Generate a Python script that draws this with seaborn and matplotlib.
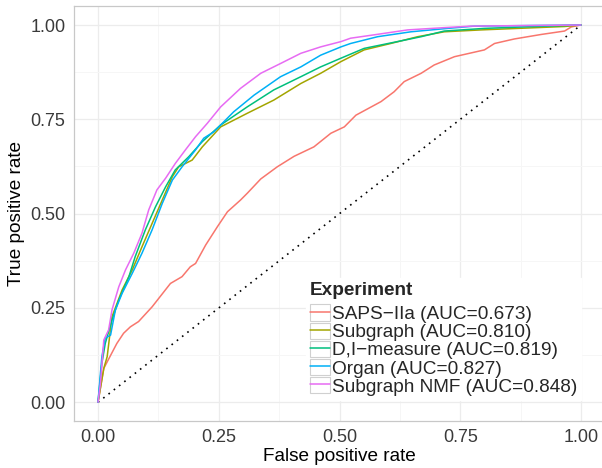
import numpy as np
import pandas as pd
import matplotlib
matplotlib.use("Agg")
import matplotlib.pyplot as plt
from matplotlib.lines import Line2D
from matplotlib.patches import Patch
import seaborn as sns

# ROC points
saps_fpr = [0, 0.012, 0.039, 0.053, 0.067, 0.084, 0.112, 0.150, 0.174, 0.191, 0.202, 0.223, 0.247,
            0.268, 0.295, 0.309, 0.337, 0.371, 0.406, 0.447, 0.482, 0.510, 0.534, 0.586, 0.613,
            0.634, 0.669, 0.696, 0.738, 0.800, 0.821, 0.862, 0.918, 0.966, 0.980, 1.0]
saps_tpr = [0, 0.090, 0.156, 0.183, 0.200, 0.214, 0.253, 0.315, 0.333, 0.359, 0.368, 0.417, 0.465,
            0.505, 0.536, 0.554, 0.592, 0.624, 0.652, 0.677, 0.713, 0.730, 0.761, 0.797, 0.823,
            0.850, 0.872, 0.894, 0.916, 0.934, 0.951, 0.963, 0.975, 0.984, 0.995, 1.0]

sub_fpr = [0, 0.012, 0.019, 0.029, 0.050, 0.071, 0.091, 0.112, 0.133, 0.154, 0.167, 0.195, 0.216,
           0.254, 0.309, 0.364, 0.420, 0.461, 0.503, 0.551, 0.606, 0.662, 0.717, 0.793, 0.869,
           0.966, 1.0]
sub_tpr = [0, 0.090, 0.121, 0.227, 0.298, 0.351, 0.412, 0.474, 0.536, 0.598, 0.624, 0.642, 0.677,
           0.730, 0.766, 0.801, 0.845, 0.872, 0.903, 0.934, 0.951, 0.969, 0.982, 0.987, 0.991,
           0.996, 1.0]

di_fpr = [0, 0.008, 0.015, 0.029, 0.043, 0.064, 0.077, 0.098, 0.119, 0.140, 0.160, 0.188, 0.216,
          0.254, 0.309, 0.364, 0.420, 0.461, 0.503, 0.551, 0.620, 0.669, 0.717, 0.800, 0.883, 1.0]
di_tpr = [0, 0.103, 0.156, 0.218, 0.271, 0.333, 0.386, 0.457, 0.518, 0.571, 0.616, 0.651, 0.691,
          0.735, 0.783, 0.828, 0.863, 0.889, 0.912, 0.938, 0.956, 0.969, 0.984, 0.991, 0.995, 1.0]

organ_fpr = [0, 0.008, 0.015, 0.026, 0.036, 0.050, 0.071, 0.091, 0.112, 0.133, 0.154, 0.174, 0.202,
             0.219, 0.240, 0.281, 0.323, 0.378, 0.420, 0.461, 0.503, 0.523, 0.579, 0.648, 0.724,
             0.779, 1.0]
organ_tpr = [0, 0.121, 0.170, 0.178, 0.245, 0.289, 0.342, 0.395, 0.457, 0.527, 0.589, 0.624, 0.669,
             0.700, 0.717, 0.770, 0.814, 0.863, 0.889, 0.920, 0.942, 0.951, 0.969, 0.982, 0.991,
             0.997, 1.0]

nmf_fpr = [0, 0.005, 0.012, 0.022, 0.029, 0.043, 0.057, 0.074, 0.091, 0.105, 0.122, 0.140, 0.160,
           0.181, 0.202, 0.226, 0.254, 0.295, 0.337, 0.378, 0.420, 0.461, 0.503, 0.523, 0.572,
           0.641, 0.717, 0.772, 1.0]
nmf_tpr = [0, 0.050, 0.165, 0.192, 0.245, 0.306, 0.351, 0.395, 0.448, 0.510, 0.563, 0.594, 0.633,
           0.669, 0.704, 0.739, 0.783, 0.832, 0.872, 0.898, 0.925, 0.942, 0.956, 0.965, 0.974,
           0.987, 0.993, 0.997, 1.0]

labels = ["SAPS\u2212IIa (AUC=0.673)", "Subgraph (AUC=0.810)", "D,I\u2212measure (AUC=0.819)",
          "Organ (AUC=0.827)", "Subgraph NMF (AUC=0.848)"]
colors = ["#F8766D", "#A3A500", "#00BF7D", "#00B0F6", "#E76BF3"]
curves = [(saps_fpr, saps_tpr), (sub_fpr, sub_tpr), (di_fpr, di_tpr),
          (organ_fpr, organ_tpr), (nmf_fpr, nmf_tpr)]

chance = [0, 1]
ticks = [0, 0.25, 0.5, 0.75, 1.0]

# long table for seaborn
frames = []
for lab, (fx, ty) in zip(labels, curves):
    frames.append(pd.DataFrame({"fpr": fx, "tpr": ty, "Experiment": lab}))
df = pd.concat(frames, ignore_index=True)

sns.set_style("white")
plt.rcParams['font.family'] = ['Liberation Sans', 'DejaVu Sans']

W, H = 602, 468
fig = plt.figure(figsize=(W / 100, H / 100), dpi=100)
# panel in pixel terms: x=0 at 98, x=1 at 581; y=0 at 402.3, y=1 at 25
x0, sx = 98.0, 483.0
y0, sy = 402.3, 377.3
left = x0 - 0.05 * sx
right = x0 + 1.05 * sx
top = y0 - 1.05 * sy
bottom = y0 + 0.05 * sy
ax = fig.add_axes([left / W, 1 - bottom / H, (right - left) / W, (bottom - top) / H])

ax.plot(chance, chance, linestyle=(0, (1, 3)), color="black", lw=1.2, zorder=1)
sns.lineplot(data=df, x="fpr", y="tpr", hue="Experiment", hue_order=labels,
             palette=dict(zip(labels, colors)), sort=False, estimator=None,
             units="Experiment", legend=False, lw=1.1, ax=ax, zorder=2)

ax.set_xlim(-0.05, 1.05)
ax.set_ylim(-0.05, 1.05)
ax.set_xticks(ticks)
ax.set_yticks(ticks)
ax.set_xticklabels([f"{t:.2f}" for t in ticks])
ax.set_yticklabels([f"{t:.2f}" for t in ticks])
ax.set_xticks([0.125, 0.375, 0.625, 0.875], minor=True)
ax.set_yticks([0.125, 0.375, 0.625, 0.875], minor=True)
ax.grid(which="major", color="#ececec", lw=0.9)
ax.grid(which="minor", color="#f6f6f6", lw=0.7)
ax.set_axisbelow(True)
ax.tick_params(which="major", length=4, width=0.8, color="#7f7f7f", labelsize=13,
               labelcolor="#3a3a3a", pad=2)
ax.tick_params(which="minor", length=0)
for sp in ax.spines.values():
    sp.set_color("#c8c8c8")
    sp.set_linewidth(0.9)

ax.set_xlabel("False positive rate", fontsize=13.7, color="black", labelpad=1)
ax.set_ylabel("True positive rate", fontsize=13.7, color="black", labelpad=4)

handles = [(Patch(facecolor="white", edgecolor="#d0d0d0", lw=0.8), Line2D([], [], color=c, lw=1.1))
           for c in colors]
leg = ax.legend(handles, labels, title="Experiment", loc="upper left",
                bbox_to_anchor=(0.437, 0.345), fontsize=13.7, frameon=True,
                handlelength=1.05, handleheight=0.95, handletextpad=0.1, labelspacing=-0.03,
                borderpad=0.2, borderaxespad=0, alignment="left",
                title_fontproperties={"weight": "bold", "size": 13.7})
leg._legend_box.sep = 4.0
leg.get_frame().set_edgecolor("white")
leg.get_frame().set_facecolor("white")
leg.get_frame().set_alpha(1)
leg.get_frame().set_boxstyle("square", pad=0)

fig.savefig("out.png", dpi=100)
